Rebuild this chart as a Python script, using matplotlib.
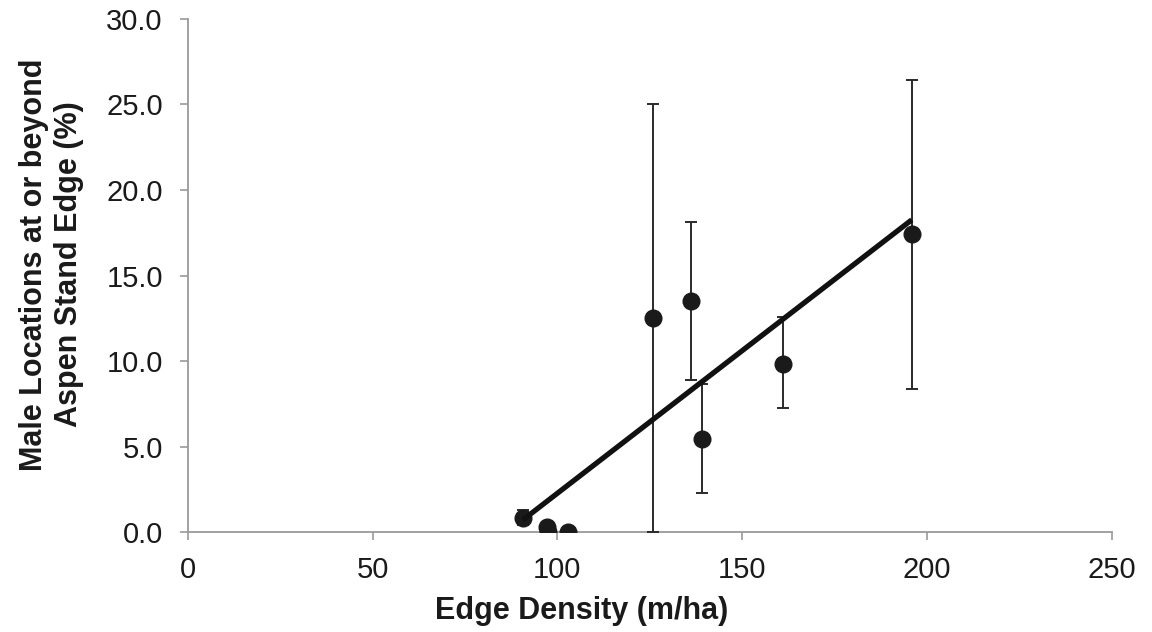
import matplotlib
matplotlib.use("Agg")
import matplotlib.pyplot as plt
import numpy as np

plt.rcParams['font.family'] = ['Liberation Sans', 'DejaVu Sans']

edge_density = [90.6, 97.1, 97.5, 102.8, 125.8, 136.1, 139.1, 161.0, 195.9]
male_pct     = [0.85, 0.3, 0.0, 0.0, 12.5, 13.5, 5.45, 9.85, 17.4]
err_low      = [0.45, 0.0, 0.0, 0.0, 12.5, 4.6, 3.15, 2.6, 9.05]
err_high     = [0.45, 0.0, 0.0, 0.0, 12.5, 4.65, 3.2, 2.7, 9.05]
fit_slope = 0.1667
fit_intercept = -14.4
x_ticks = [0, 50, 100, 150, 200, 250]
y_ticks = [0, 5, 10, 15, 20, 25, 30]

fig = plt.figure(figsize=(11.52, 6.32), dpi=100)
ax = fig.add_axes([0.163, 0.158, 0.802, 0.812])

ax.errorbar(edge_density, male_pct, yerr=[err_low, err_high], fmt='o',
            color='#1a1a1a', ecolor='#2a2a2a', elinewidth=1.4, capsize=4.5,
            capthick=1.4, markersize=12, zorder=3)

xs = np.array([min(edge_density), max(edge_density)])
ax.plot(xs, fit_slope * xs + fit_intercept, color='#111111', linewidth=3.8,
        zorder=4, solid_capstyle='butt')

ax.set_xlim(0, 250)
ax.set_ylim(0, 30)
ax.set_xticks(x_ticks)
ax.set_yticks(y_ticks)
ax.set_yticklabels([f"{v:.1f}" for v in y_ticks])
for s in ['top', 'right']:
    ax.spines[s].set_visible(False)
for s in ['left', 'bottom']:
    ax.spines[s].set_color('#9a9a9a')
    ax.spines[s].set_linewidth(1.3)
ax.tick_params(axis='both', colors='#9a9a9a', length=6, width=1.2,
               labelsize=21, labelcolor='#1a1a1a', direction='out')
ax.tick_params(axis='x', pad=11)
ax.tick_params(axis='y', pad=12)
ax.set_xlabel('Edge Density (m/ha)', fontsize=22, fontweight='bold',
              color='#1a1a1a', labelpad=9)
ax.xaxis.label.set_x(0.426)
ax.set_ylabel('Male Locations at or beyond\nAspen Stand Edge (%)',
              fontsize=22, fontweight='bold', color='#1a1a1a', labelpad=16,
              linespacing=1.2)
ax.yaxis.label.set_y(0.522)

fig.savefig('out.png', dpi=100)
